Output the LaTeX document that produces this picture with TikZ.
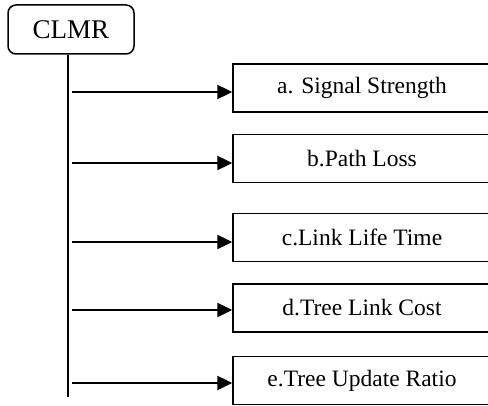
\documentclass[tikz,border=0pt]{standalone}
\usepackage{fontspec}
\setmainfont{Liberation Serif}
\usetikzlibrary{arrows.meta}
\begin{document}
\begin{tikzpicture}[x=1pt,y=-1pt,
  box/.style={draw, line width=1.5pt, minimum width=258pt, minimum height=48pt, inner sep=0pt, font=\fontsize{23.5}{28}\selectfont},
  root/.style={draw, rounded corners=8pt, line width=1.5pt, minimum width=126pt, minimum height=49pt, inner sep=0pt, font=\fontsize{27}{32}\selectfont},
  arr/.style={line width=2.4pt, -{Triangle[length=15pt,width=14pt]}},
  trunk/.style={line width=1.8pt}]
\useasboundingbox (0,0) rectangle (488,406);
\clip (0,0) rectangle (488,406);
\node[root] (r) at (71,29.5) {CLMR};
\node[box] (a) at (362,88) {a. Signal Strength};
\node[box] (b) at (362,158.5) {b.Path Loss};
\node[box] (c) at (362,237.5) {c.Link Life Time};
\node[box] (d) at (362,308) {d.Tree Link Cost};
\node[box] (e) at (362,380.5) {e.Tree Update Ratio};
\coordinate (top) at (68,54);
\coordinate (bot) at (68,397);
\draw[trunk] (r.south -| top) -- (bot);
\coordinate (sa) at (72,92);
\coordinate (sb) at (72,163);
\coordinate (sc) at (72,242);
\coordinate (sd) at (72,310);
\coordinate (se) at (72,383);
\draw[arr] (sa) -- (sa -| a.west);
\draw[arr] (sb) -- (sb -| b.west);
\draw[arr] (sc) -- (sc -| c.west);
\draw[arr] (sd) -- (sd -| d.west);
\draw[arr] (se) -- (se -| e.west);
\end{tikzpicture}
\end{document}
